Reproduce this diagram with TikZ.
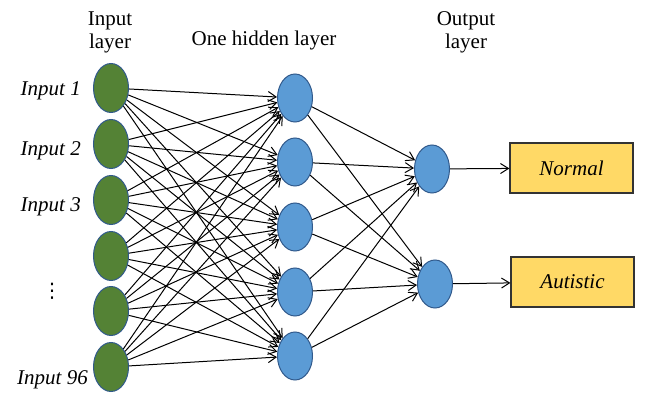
\documentclass[tikz,border=0pt]{standalone}
\usepackage{fontspec}
\setmainfont{Liberation Serif}
\newfontfamily\dejavu{DejaVu Sans}
\usetikzlibrary{arrows.meta,shapes.geometric}
\definecolor{ingreen}{RGB}{84,130,53}
\definecolor{nodeblue}{RGB}{91,155,213}
\definecolor{rimblue}{RGB}{49,90,140}
\definecolor{boxyellow}{RGB}{255,217,102}
\begin{document}
\begin{tikzpicture}[x=1pt,y=-1pt,
  inneuron/.style={ellipse,draw=rimblue,line width=1pt,fill=ingreen,minimum width=35pt,minimum height=49pt,inner sep=0pt},
  bneuron/.style={ellipse,draw=rimblue,line width=1pt,fill=nodeblue,minimum width=35pt,minimum height=48pt,inner sep=0pt},
  outbox/.style={draw=black!80,line width=1.2pt,fill=boxyellow,minimum width=123pt,minimum height=50pt,inner sep=0pt,font=\itshape\fontsize{21}{24}\selectfont},
  lbl/.style={font=\fontsize{21}{23}\selectfont,align=center,inner sep=0pt},
  inlbl/.style={font=\itshape\fontsize{21}{24}\selectfont,anchor=east,inner sep=0pt},
  conn/.style={-{Straight Barb[length=8pt,width=10pt]},line width=1pt,black}]
\useasboundingbox (0,0) rectangle (648,406);
% input layer
\foreach \i/\y in {1/88,2/144,3/200,4/256,5/311,6/367}
  \node[inneuron] (i\i) at (111,\y) {};
% hidden layer
\foreach \j/\y in {1/98,2/162,3/227,4/292,5/356}
  \node[bneuron] (h\j) at (295,\y) {};
% output layer
\node[bneuron] (o1) at (432,169) {};
\node[bneuron] (o2) at (435,284) {};
% boxes
\node[outbox] (b1) at (571.5,168) {Normal};
\node[outbox] (b2) at (572.5,282) {Autistic};
% titles
\node[lbl] (t1) at (110,32) {Input\\layer};
\node[lbl] (t2) at (264,40) {One hidden layer};
\node[lbl] (t3) at (466,32) {Output\\layer};
% input labels
\node[inlbl] (l1) at (81,91) {Input 1};
\node[inlbl] (l2) at (81,151) {Input 2};
\node[inlbl] (l3) at (81,207) {Input 3};
\node[inlbl] (l6) at (88,380) {Input 96};
\node[font=\dejavu\fontsize{20}{24}\selectfont,inner sep=0pt] (dots) at (52,291) {⋮};
% connections
\foreach \i in {1,...,6}
  \foreach \j in {1,...,5}
    \draw[conn] (i\i) -- (h\j);
\foreach \j in {1,...,5}
  \foreach \k in {1,2}
    \draw[conn] (h\j) -- (o\k);
\draw[conn] (o1) -- (b1);
\draw[conn] (o2) -- (b2);
\end{tikzpicture}
\end{document}
